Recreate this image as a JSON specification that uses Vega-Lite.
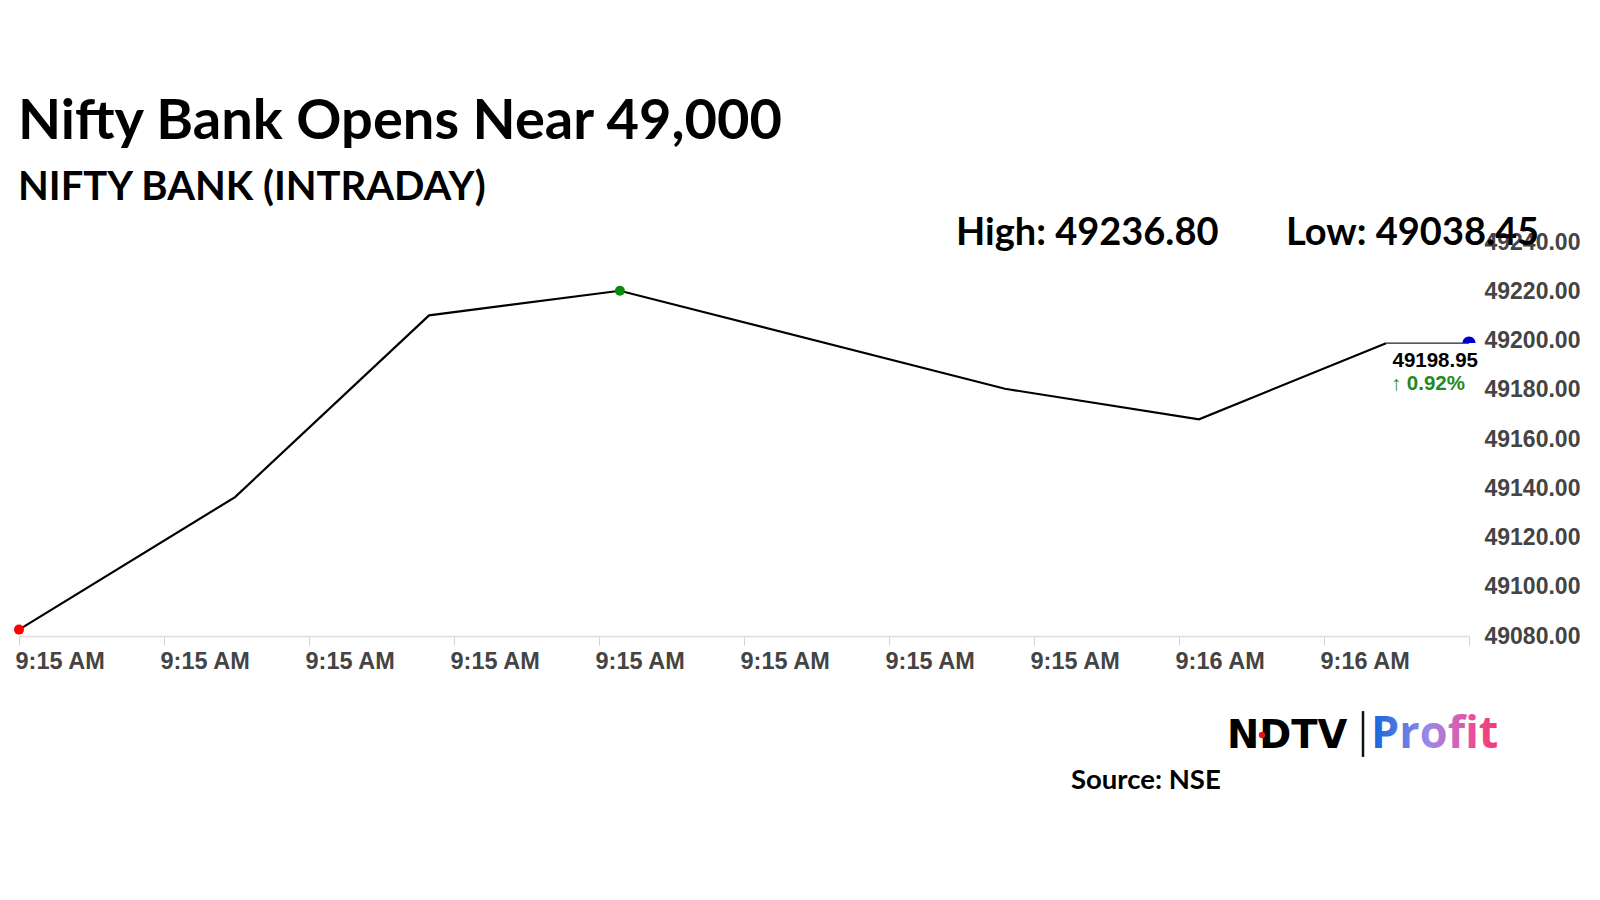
{
  "$schema": "https://vega.github.io/schema/vega-lite/v6.json",
  "width": 1450,
  "height": 394,
  "autosize": {"type": "none"},
  "padding": {"left": 19, "top": 242, "right": 131, "bottom": 264},
  "background": "white",
  "config": {"view": {"stroke": null}, "font": "Liberation Sans"},
  "title": {
    "text": "Nifty Bank Opens Near 49,000",
    "subtitle": "NIFTY BANK (INTRADAY)",
    "anchor": "start",
    "frame": "group",
    "font": "Lato",
    "fontSize": 56,
    "fontWeight": "bold",
    "color": "#000000",
    "subtitleFont": "Lato",
    "subtitleFontSize": 40,
    "subtitleFontWeight": "bold",
    "subtitleColor": "#000000",
    "subtitlePadding": 17,
    "offset": 6,
    "dx": -1
  },
  "datasets": {
    "prices": [
      {"n": 1, "time": "2024-01-01T09:15:22.000", "value": 49082.6, "marker": "Open"},
      {"n": 2, "time": "2024-01-01T09:15:29.450", "value": 49136.4},
      {"n": 3, "time": "2024-01-01T09:15:36.140", "value": 49210.2},
      {"n": 4, "time": "2024-01-01T09:15:42.720", "value": 49220.2, "marker": "Peak"},
      {"n": 5, "time": "2024-01-01T09:15:56.000", "value": 49180.4},
      {"n": 6, "time": "2024-01-01T09:16:02.690", "value": 49168.0},
      {"n": 7, "time": "2024-01-01T09:16:09.140", "value": 49198.9},
      {"n": 8, "time": "2024-01-01T09:16:12.000", "value": 49198.95, "marker": "Last"}
    ],
    "notes": [
      {"key": "hl", "text": "High: 49236.80", "time": "2024-01-01T09:15:54.310", "value": 49238.8},
      {"key": "hl", "text": "Low: 49038.45", "time": "2024-01-01T09:16:05.690", "value": 49238.8},
      {"key": "chg", "text": "↑ 0.92%", "time": "2024-01-01T09:16:12.000", "value": 49198.95},
      {"key": "ndtv", "text": "NDTV", "time": "2024-01-01T09:16:03.659", "value": 49034.5},
      {"key": "ndtvdot", "text": "", "time": "2024-01-01T09:16:04.862", "value": 49039.8},
      {"key": "profit", "text": "Profit", "time": "2024-01-01T09:16:08.624", "value": 49034.5},
      {"key": "bar", "text": "", "time": "2024-01-01T09:16:08.345", "value": 49049.5, "value2": 49030.9},
      {"key": "source", "text": "Source: NSE", "time": "2024-01-01T09:15:58.276", "value": 49017.9}
    ]
  },
  "encoding": {
    "x": {
      "field": "time",
      "type": "temporal",
      "scale": {
        "domain": [
          {"year": 2024, "month": 1, "date": 1, "hours": 9, "minutes": 15, "seconds": 22},
          {"year": 2024, "month": 1, "date": 1, "hours": 9, "minutes": 16, "seconds": 12}
        ],
        "nice": false
      },
      "axis": {
        "values": [
          {"year": 2024, "month": 1, "date": 1, "hours": 9, "minutes": 15, "seconds": 22},
          {"year": 2024, "month": 1, "date": 1, "hours": 9, "minutes": 15, "seconds": 27},
          {"year": 2024, "month": 1, "date": 1, "hours": 9, "minutes": 15, "seconds": 32},
          {"year": 2024, "month": 1, "date": 1, "hours": 9, "minutes": 15, "seconds": 37},
          {"year": 2024, "month": 1, "date": 1, "hours": 9, "minutes": 15, "seconds": 42},
          {"year": 2024, "month": 1, "date": 1, "hours": 9, "minutes": 15, "seconds": 47},
          {"year": 2024, "month": 1, "date": 1, "hours": 9, "minutes": 15, "seconds": 52},
          {"year": 2024, "month": 1, "date": 1, "hours": 9, "minutes": 15, "seconds": 57},
          {"year": 2024, "month": 1, "date": 1, "hours": 9, "minutes": 16, "seconds": 2},
          {"year": 2024, "month": 1, "date": 1, "hours": 9, "minutes": 16, "seconds": 7},
          {"year": 2024, "month": 1, "date": 1, "hours": 9, "minutes": 16, "seconds": 12}
        ],
        "format": "%-I:%M %p",
        "labelExpr": "datum.value >= time(datetime(2024, 0, 1, 9, 16, 12)) ? '' : datum.label",
        "labelFont": "Liberation Sans",
        "labelFontSize": 23.5,
        "labelFontWeight": "bold",
        "labelColor": "#444444",
        "labelAlign": "left",
        "labelOffset": -4,
        "labelPadding": 4,
        "labelFlush": false,
        "labelOverlap": false,
        "tickSize": 9,
        "tickColor": "#d4d4d4",
        "domainColor": "#dddddd",
        "domainWidth": 1.5,
        "grid": false,
        "title": null
      }
    },
    "y": {
      "field": "value",
      "type": "quantitative",
      "scale": {"domain": [49080, 49240], "nice": false, "zero": false},
      "axis": {
        "orient": "right",
        "values": [49080, 49100, 49120, 49140, 49160, 49180, 49200, 49220, 49240],
        "format": ".2f",
        "labelFont": "Liberation Sans",
        "labelFontSize": 23,
        "labelFontWeight": "bold",
        "labelColor": "#444444",
        "labelPadding": 15,
        "ticks": false,
        "domain": false,
        "grid": false,
        "title": null
      }
    }
  },
  "layer": [
    {
      "data": {"name": "prices"},
      "transform": [{"filter": "datum.n <= 7"}],
      "mark": {"type": "line", "color": "#000000", "strokeWidth": 2.2}
    },
    {
      "data": {"name": "prices"},
      "transform": [{"filter": "datum.n >= 7"}],
      "mark": {"type": "line", "color": "#222222", "strokeWidth": 1.2}
    },
    {
      "data": {"name": "prices"},
      "transform": [{"filter": "datum.marker == 'Open' || datum.marker == 'Peak'"}],
      "mark": {"type": "point", "filled": true, "opacity": 1, "size": 100},
      "encoding": {
        "color": {
          "field": "marker",
          "type": "nominal",
          "scale": {"domain": ["Open", "Peak", "Last"], "range": ["#ff0000", "#0a8a0a", "#0000cc"]},
          "legend": null
        }
      }
    },
    {
      "data": {"name": "prices"},
      "transform": [{"filter": "datum.marker == 'Last'"}],
      "mark": {"type": "point", "filled": true, "opacity": 1, "size": 170, "color": "#0000cc", "shape": "M -1 0 A 1 1 0 0 1 1 0 Z"}
    },
    {
      "data": {"name": "prices"},
      "transform": [{"filter": "datum.marker == 'Last'"}],
      "mark": {"type": "text", "align": "right", "baseline": "alphabetic", "dx": 9, "dy": 24, "font": "Liberation Sans", "fontSize": 20.5, "fontWeight": "bold", "color": "#000000"},
      "encoding": {"text": {"field": "value", "type": "quantitative", "format": ".2f"}}
    },
    {
      "data": {"name": "notes"},
      "transform": [{"filter": "datum.key == 'chg'"}],
      "mark": {"type": "text", "align": "right", "baseline": "alphabetic", "dx": -4, "dy": 47, "font": "Liberation Sans", "fontSize": 20.5, "fontWeight": "bold", "color": "#1f8a1f"},
      "encoding": {"text": {"field": "text"}}
    },
    {
      "data": {"name": "notes"},
      "transform": [{"filter": "datum.key == 'hl'"}],
      "mark": {"type": "text", "align": "left", "baseline": "alphabetic", "font": "Lato", "fontSize": 38, "fontWeight": "bold", "color": "#000000"},
      "encoding": {"text": {"field": "text"}}
    },
    {
      "data": {"name": "notes"},
      "transform": [{"filter": "datum.key == 'ndtv'"}],
      "mark": {"type": "text", "align": "left", "baseline": "alphabetic", "font": "DejaVu Sans", "fontSize": 38.5, "fontWeight": "bold", "color": "#000000"},
      "encoding": {"text": {"field": "text"}}
    },
    {
      "data": {"name": "notes"},
      "transform": [{"filter": "datum.key == 'ndtvdot'"}],
      "mark": {"type": "point", "filled": true, "opacity": 1, "size": 40, "color": "#e8141c"}
    },
    {
      "data": {"name": "notes"},
      "transform": [{"filter": "datum.key == 'bar'"}],
      "mark": {"type": "rule", "color": "#111111", "strokeWidth": 2.5},
      "encoding": {"y2": {"field": "value2"}}
    },
    {
      "data": {"name": "notes"},
      "transform": [{"filter": "datum.key == 'profit'"}],
      "mark": {
        "type": "text", "align": "left", "baseline": "alphabetic", "font": "Open Sans", "fontSize": 45, "fontWeight": "bold",
        "fill": {"gradient": "linear", "x1": 0, "y1": 0, "x2": 1, "y2": 0, "stops": [
          {"offset": 0, "color": "#1067dc"},
          {"offset": 0.45, "color": "#9a8ae8"},
          {"offset": 0.75, "color": "#e454a8"},
          {"offset": 1, "color": "#f5386e"}
        ]}
      },
      "encoding": {"text": {"field": "text"}}
    },
    {
      "data": {"name": "notes"},
      "transform": [{"filter": "datum.key == 'source'"}],
      "mark": {"type": "text", "align": "left", "baseline": "alphabetic", "font": "Lato", "fontSize": 27.5, "fontWeight": "bold", "color": "#000000"},
      "encoding": {"text": {"field": "text"}}
    }
  ]
}
